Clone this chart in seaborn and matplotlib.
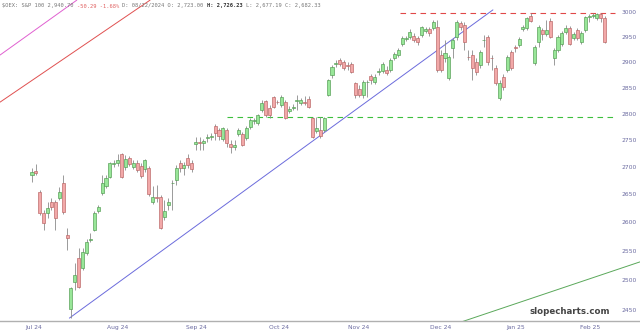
import matplotlib
matplotlib.use("Agg")
import matplotlib.pyplot as plt
import matplotlib.ticker as mticker
import seaborn as sns
import numpy as np
import pandas as pd

# ---------------- data ----------------
opens = [2685,2693,2655,2617,2617,2637,2637,2644,2671,2578,
         2451,2497,2538,2520,2546,2569,2587,2621,2653,2665,
         2682,2706,2708,2724,2700,2717,2700,2708,2702,2696,
         2698,2637,2645,2646,2610,2631,2670,2676,2708,2698,
         2717,2708,2743,2746,2744,2754,2756,2776,2769,2752,
         2769,2743,2737,2761,2761,2754,2774,2786,2782,2807,
         2824,2811,2832,2823,2816,2822,2805,2811,2824,2820,
         2822,2828,2792,2767,2769,2769,2836,2875,2896,2904,
         2900,2894,2896,2859,2847,2836,2860,2873,2861,2880,
         2882,2884,2884,2908,2914,2936,2946,2950,2952,2948,
         2954,2962,2966,2968,2970,2914,2908,2869,2928,2950,
         2978,2974,2911,2914,2900,2894,2943,2950,2909,2888,
         2830,2871,2884,2920,2929,2934,2966,2968,2992,2898,
         2940,2964,2956,2982,2908,2924,2936,2960,2968,2948,
         2964,2940,2964,2991,2993,2988,2996,2988]
highs = [2698,2706,2658,2623,2637,2644,2640,2664,2685,2591,
         2488,2529,2556,2556,2570,2582,2621,2631,2685,2685,
         2709,2713,2724,2726,2722,2721,2713,2713,2708,2715,
         2702,2665,2667,2649,2640,2644,2676,2704,2713,2709,
         2724,2713,2756,2756,2752,2761,2763,2780,2773,2774,
         2773,2750,2750,2773,2765,2776,2792,2792,2799,2826,
         2826,2816,2834,2826,2836,2826,2815,2818,2836,2830,
         2834,2834,2793,2793,2793,2793,2867,2894,2904,2908,
         2904,2900,2900,2861,2855,2865,2865,2876,2876,2888,
         2900,2892,2908,2920,2928,2952,2952,2966,2958,2952,
         2972,2970,2970,2984,2984,2924,2944,2914,2948,2984,
         2982,2980,2924,2924,2908,2924,2954,2954,2914,2894,
         2865,2876,2914,2924,2934,2950,2974,2990,2998,2934,
         2974,2968,2984,2988,2928,2954,2962,2974,2972,2960,
         2968,2962,2992,2996,2998,2999,2998,2992]
lows = [2673,2685,2614,2587,2608,2623,2587,2640,2615,2552,
        2437,2483,2486,2517,2543,2565,2585,2617,2649,2662,
        2680,2700,2702,2680,2695,2702,2696,2691,2680,2691,
        2648,2633,2637,2589,2605,2623,2623,2667,2691,2685,
        2698,2691,2732,2732,2732,2746,2750,2750,2750,2748,
        2737,2726,2732,2758,2739,2750,2771,2780,2778,2803,
        2793,2792,2811,2818,2813,2790,2801,2807,2807,2816,
        2816,2811,2754,2763,2754,2765,2834,2869,2890,2892,
        2884,2884,2878,2830,2832,2830,2832,2857,2857,2875,
        2878,2875,2880,2904,2910,2932,2942,2946,2940,2934,
        2950,2958,2952,2964,2880,2880,2900,2865,2908,2944,
        2964,2924,2904,2865,2875,2888,2930,2894,2884,2855,
        2826,2845,2880,2884,2920,2930,2962,2964,2980,2894,
        2930,2944,2952,2948,2894,2920,2932,2956,2934,2944,
        2944,2936,2960,2980,2988,2984,2980,2938]
closes = [2691,2689,2617,2599,2626,2628,2608,2655,2619,2573,
          2486,2509,2488,2548,2565,2571,2617,2628,2671,2680,
          2708,2708,2713,2682,2715,2706,2708,2695,2684,2713,
          2651,2646,2644,2591,2621,2637,2671,2698,2698,2704,
          2704,2696,2746,2745,2748,2756,2758,2763,2758,2773,
          2744,2737,2741,2769,2741,2773,2788,2788,2797,2820,
          2797,2797,2813,2822,2832,2792,2809,2813,2826,2826,
          2820,2813,2756,2773,2758,2792,2865,2890,2898,2896,
          2888,2893,2880,2836,2836,2861,2861,2865,2871,2882,
          2896,2878,2904,2916,2924,2948,2948,2960,2944,2940,
          2970,2966,2958,2980,2884,2884,2918,2910,2944,2980,
          2970,2940,2910,2888,2880,2920,2944,2900,2908,2859,
          2859,2851,2910,2888,2928,2946,2970,2988,2982,2930,
          2970,2956,2964,2950,2924,2950,2958,2968,2936,2956,
          2948,2958,2990,2992,2994,2996,2988,2940]

month_labels = ["Jul 24", "Aug 24", "Sep 24", "Oct 24", "Nov 24", "Dec 24", "Jan 25", "Feb 25"]
month_index = [0.3, 22.1, 42.1, 63.4, 83.9, 105.0, 124.2, 143.2]

price_ticks = [2450, 2500, 2550, 2600, 2650, 2700, 2750, 2800, 2850, 2900, 2950, 3000]

# drawn trend lines (bar index, price)
blue_line_x = [9.6, 118.3];   blue_line_y = [2436, 3005]
red_line_x = [-8.2, 30.3];    red_line_y = [2822, 3025]
pink_line_x = [-8.2, 11.5];   pink_line_y = [2914, 3025]
green_line_x = [109.9, 156.0]; green_line_y = [2429, 2531]
resist_level = 2998; resist_start = 94.5
support_level = 2793; support_start = 50.0
line_end = 149.6

header_parts = [("$OEX: S&P 100 2,940.70 ", "#777777", "normal"),
                ("-50.29 -1.68% ", "#e06060", "normal"),
                ("D: 08/22/2024 O: 2,723.00 ", "#777777", "normal"),
                ("H: 2,726.23 ", "#333333", "bold"),
                ("L: 2,677.19 C: 2,682.33", "#777777", "normal")]

# ---------------- figure ----------------
sns.set_theme(style="white")
plt.rcParams['font.family'] = ['DejaVu Sans']

W, H = 640, 335
fig = plt.figure(figsize=(W / 100, H / 100), dpi=100)
ax = fig.add_axes([0, 1 - 321 / H, 1, 321 / H])

df = pd.DataFrame({"i": np.arange(len(opens)), "open": opens, "high": highs,
                   "low": lows, "close": closes})
df["up"] = df["close"] >= df["open"]

ax.set_yscale("log")

# wicks
ax.vlines(df["i"], df["low"], df["high"], color="#8a8a8a", linewidth=0.6, zorder=2)
# bodies
for up, face, edge in [(True, "#98e698", "#4f9a4f"), (False, "#f2a8a8", "#b86262")]:
    d = df[df["up"] == up]
    bottom = np.minimum(d["open"], d["close"])
    height = np.maximum(np.abs(d["close"] - d["open"]), 0.8)
    ax.bar(d["i"], height, bottom=bottom, width=0.78, color=face,
           edgecolor=edge, linewidth=0.45, zorder=3)

# trend lines via seaborn
sns.lineplot(x=blue_line_x, y=blue_line_y, ax=ax, color="#6b6bdc", linewidth=0.7, zorder=1)
sns.lineplot(x=red_line_x, y=red_line_y, ax=ax, color="#e05050", linewidth=0.7, zorder=1)
sns.lineplot(x=pink_line_x, y=pink_line_y, ax=ax, color="#e060d0", linewidth=0.7, zorder=1)
sns.lineplot(x=green_line_x, y=green_line_y, ax=ax, color="#5aa85a", linewidth=0.7, zorder=1)

# horizontal dashed levels
ax.plot([resist_start, line_end], [resist_level, resist_level], color="#e04848",
        linewidth=0.8, linestyle=(0, (5, 4)), zorder=1)
ax.plot([support_start, line_end], [support_level, support_level], color="#3cc03c",
        linewidth=0.8, linestyle=(0, (5, 4)), zorder=1)

ax.set_xlim(-8.21, 156.05)
ax.set_ylim(2431.2, 3025.3)

ax.yaxis.set_major_locator(mticker.FixedLocator(price_ticks))
ax.yaxis.set_major_formatter(mticker.FixedFormatter([str(p) for p in price_ticks]))
ax.yaxis.set_minor_locator(mticker.NullLocator())
ax.yaxis.tick_right()
ax.tick_params(axis="y", length=0, pad=-13, labelsize=4.3, labelcolor="#6a6aa0")
for lab in ax.get_yticklabels():
    lab.set_horizontalalignment("left")

ax.set_xticks(month_index)
ax.set_xticklabels(month_labels)
ax.tick_params(axis="x", length=0, pad=3, labelsize=4.3, labelcolor="#6a6aa0")

for s in ["top", "left", "right"]:
    ax.spines[s].set_visible(False)
ax.spines["bottom"].set_color("#b0b0b0")
ax.spines["bottom"].set_linewidth(1.0)
ax.grid(False)
ax.set_xlabel("")
ax.set_ylabel("")

# header
x0 = 2
for txt, col, wt in header_parts:
    fig.text(x0 / W, 1 - 6 / H, txt, fontsize=3.9, family="DejaVu Sans Mono",
             color=col, fontweight=wt, va="center", ha="left")
    x0 += len(txt) * 3.25

fig.text(610 / W, 1 - 312 / H, "slopecharts.com", fontsize=6.2, fontweight="bold",
         color="#444444", ha="right", va="center")

fig.savefig("out.png", dpi=100)
